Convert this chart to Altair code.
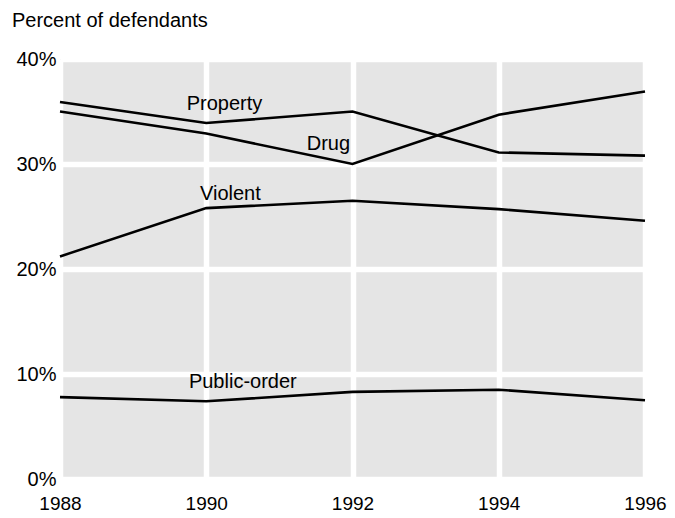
import altair as alt
import pandas as pd

years = [1988, 1990, 1992, 1994, 1996]
property_pct = [35.9, 33.9, 35.0, 31.1, 30.8]
drug_pct = [35.0, 32.9, 30.0, 34.7, 36.9]
violent_pct = [21.2, 25.8, 26.5, 25.7, 24.6]
public_order_pct = [7.8, 7.4, 8.3, 8.5, 7.5]

series_names = ["Property", "Drug", "Violent", "Public-order"]
label_years = [1990.25, 1991.67, 1990.33, 1990.5]
label_pcts = [35.1, 31.3, 26.6, 8.67]

x_ticks = [1988, 1990, 1992, 1994, 1996]
y_ticks = [0, 10, 20, 30, 40]
title_text = ["Percent of defendants"]

rows = []
for name, vals in zip(series_names, [property_pct, drug_pct, violent_pct, public_order_pct]):
    for yr, v in zip(years, vals):
        rows.append({"series": name, "year": yr, "pct": v})
df = pd.DataFrame(rows)
labels = pd.DataFrame({"series": series_names, "year": label_years, "pct": label_pcts})

FONT = "Liberation Sans"
FS = 20

x = alt.X("year:Q", scale=alt.Scale(domain=[1988, 1996], nice=False, zero=False),
          axis=alt.Axis(values=x_ticks, format="d", title=None, domain=False, ticks=False,
                        labelPadding=15, labelFontSize=19, labelColor="#000", labelFont=FONT,
                        labelFlush=False, labelOverlap=False,
                        gridColor="white", gridWidth=5.5, gridOpacity=1))
y = alt.Y("pct:Q", scale=alt.Scale(domain=[0, 40], nice=False),
          axis=alt.Axis(values=y_ticks, labelExpr="datum.value + '%'", title=None, domain=False,
                        ticks=False, labelPadding=4, labelFontSize=FS, labelColor="#000",
                        labelFont=FONT, labelFlush=False, labelOverlap=False,
                        gridColor="white", gridWidth=5.5, gridOpacity=1))

lines = alt.Chart(df).mark_line(color="black", strokeWidth=2.6).encode(
    x=x, y=y, detail="series:N"
)

texts = alt.Chart(labels).mark_text(font=FONT, fontSize=FS, color="#000",
                                    align="center", baseline="alphabetic").encode(
    x=alt.X("year:Q"), y=alt.Y("pct:Q"), text="series:N"
)

title = alt.Chart(pd.DataFrame({"t": title_text})).mark_text(
    font=FONT, fontSize=FS, color="#000", align="left", baseline="alphabetic"
).encode(x=alt.value(-48), y=alt.value(-32), text="t:N")

chart = alt.layer(lines, texts, title).properties(
    width=585, height=420,
    autosize=alt.AutoSizeParams(type="none"),
    padding={"left": 52, "top": 51, "right": 22, "bottom": 45},
).configure_view(fill="#e5e5e5", stroke=None)

chart.save("out.html", embed_options={"renderer": "svg", "actions": False})
